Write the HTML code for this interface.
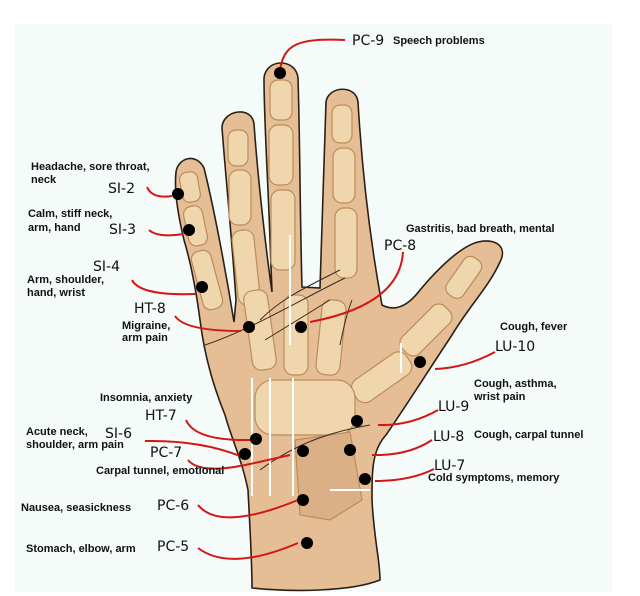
<!DOCTYPE html>
<html><head><meta charset="utf-8"><style>
html,body{margin:0;padding:0;background:#fff;}
svg{display:block;}
.t{font-family:"Liberation Sans",sans-serif;font-weight:bold;font-size:11px;fill:#111;}
.c{font-family:"DejaVu Sans","Liberation Sans",sans-serif;font-size:14px;fill:#111;}
.r{fill:none;stroke:#d41616;stroke-width:2;}
.b{fill:#f0d6ac;stroke:#b98c5a;stroke-width:1.2;}
</style></head><body>
<svg width="640" height="596" viewBox="0 0 640 596" xmlns="http://www.w3.org/2000/svg">
<rect x="15" y="24" width="597" height="568" fill="#f4fbf8"/>
<path d="M252,588 C252,560 250,530 248,490 C242,460 232,440 225,415 C215,390 205,360 200,320 C196,290 190,260 184,240 C178,215 174,190 176,172 C178,158 196,152 204,168 C212,200 224,260 234,322 L236,300 C232,240 226,180 222,128 C222,110 252,105 254,124 C258,180 266,250 272,292 L270,240 C268,180 264,120 264,78 C266,58 296,58 298,78 C300,140 300,220 302,287 L320,288 C322,230 324,160 326,102 C328,86 356,84 358,102 C362,170 370,240 382,305 C395,312 408,306 420,290 C440,266 462,246 478,242 C495,238 508,246 500,262 C488,288 470,305 452,335 C432,365 410,400 386,435 C372,450 372,470 372,500 C374,540 380,560 380,580 C350,592 290,592 252,588 Z" fill="#e6be96" stroke="#2a2018" stroke-width="1.6"/>
<g class="b">
<rect x="270" y="80" width="22" height="40" rx="8"/><rect x="269" y="125" width="24" height="60" rx="9"/><rect x="271" y="190" width="24" height="80" rx="9"/>
<rect x="228" y="130" width="20" height="36" rx="8"/><rect x="229" y="170" width="22" height="55" rx="9"/><rect x="235" y="230" width="22" height="75" rx="9" transform="rotate(-6 246 267)"/>
<rect x="332" y="105" width="20" height="38" rx="8"/><rect x="333" y="148" width="22" height="55" rx="9"/><rect x="335" y="208" width="22" height="70" rx="9"/>
<rect x="181" y="172" width="18" height="30" rx="7" transform="rotate(-10 190 187)"/><rect x="186" y="206" width="19" height="40" rx="8" transform="rotate(-12 195 226)"/><rect x="197" y="250" width="20" height="60" rx="8" transform="rotate(-15 207 280)"/>
<rect x="248" y="290" width="24" height="80" rx="9" transform="rotate(-8 260 330)"/><rect x="284" y="295" width="24" height="80" rx="9"/><rect x="319" y="300" width="24" height="75" rx="9" transform="rotate(6 331 337)"/>
<rect x="454" y="255" width="20" height="45" rx="8" transform="rotate(35 464 277)"/><rect x="414" y="300" width="24" height="60" rx="9" transform="rotate(45 426 330)"/><rect x="369" y="345" width="26" height="65" rx="10" transform="rotate(55 382 377)"/>
<rect x="255" y="380" width="100" height="55" rx="18"/>
<path d="M295,440 L350,432 L362,500 L330,520 L300,515 Z" fill="#dcb086" stroke="#b98c5a"/>
</g>
<g fill="none" stroke="#3a2a20" stroke-width="1">
<path d="M205,345 C250,330 300,300 345,278"/><path d="M260,320 C280,300 300,290 340,270"/><path d="M265,340 L330,300"/><path d="M340,345 C345,320 350,305 352,300"/><path d="M260,470 C300,440 340,430 370,425"/>
</g>
<g stroke="#fff" stroke-width="2">
<line x1="290" y1="235" x2="290" y2="345"/><line x1="252" y1="378" x2="252" y2="496"/><line x1="270" y1="378" x2="270" y2="496"/><line x1="293" y1="378" x2="293" y2="496"/><line x1="401" y1="343" x2="401" y2="373"/><line x1="330" y1="490" x2="370" y2="490"/>
</g>
<path class="r" d="M280,70 C284,44 298,38 345,40"/>
<path class="r" d="M147,187 Q152,199 172,196"/>
<path class="r" d="M149,230 Q158,238 183,234"/>
<path class="r" d="M132,280 Q140,296 196,294"/>
<path class="r" d="M175,316 Q185,331 241,331"/>
<path class="r" d="M403,252 Q400,305 310,322"/>
<path class="r" d="M435,369 Q465,368 495,352"/>
<path class="r" d="M378,425 Q410,426 438,410"/>
<path class="r" d="M372,455 Q408,456 432,440"/>
<path class="r" d="M375,481 Q410,481 434,469"/>
<path class="r" d="M186,420 Q195,441 250,440"/>
<path class="r" d="M145,441 Q200,440 240,456"/>
<path class="r" d="M188,460 Q200,475 250,464 L290,455"/>
<path class="r" d="M198,505 Q220,532 298,500"/>
<path class="r" d="M198,548 Q230,572 298,543"/>
<g fill="#000">
<circle cx="280" cy="73" r="6"/><circle cx="178" cy="194" r="6"/><circle cx="189" cy="230" r="6"/><circle cx="202" cy="287" r="6"/>
<circle cx="249" cy="327" r="6"/><circle cx="301" cy="327" r="6"/><circle cx="420" cy="362" r="6"/><circle cx="357" cy="421" r="6"/>
<circle cx="256" cy="439" r="6"/><circle cx="245" cy="454" r="6"/><circle cx="303" cy="451" r="6"/><circle cx="350" cy="450" r="6"/>
<circle cx="365" cy="479" r="6"/><circle cx="303" cy="500" r="6"/><circle cx="307" cy="543" r="6"/>
</g>
<text class="c" x="352" y="45">PC-9</text><text class="t" x="393" y="44">Speech problems</text>
<text class="t" x="31" y="170">Headache, sore throat,</text><text class="t" x="31" y="183">neck</text><text class="c" x="108" y="193">SI-2</text>
<text class="t" x="28" y="217">Calm, stiff neck,</text><text class="t" x="28" y="231">arm, hand</text><text class="c" x="109" y="234">SI-3</text>
<text class="c" x="93" y="271">SI-4</text><text class="t" x="27" y="283">Arm, shoulder,</text><text class="t" x="27" y="296">hand, wrist</text>
<text class="c" x="134" y="313">HT-8</text><text class="t" x="122" y="329">Migraine,</text><text class="t" x="122" y="341">arm pain</text>
<text class="t" x="406" y="232">Gastritis, bad breath, mental</text><text class="c" x="384" y="250">PC-8</text>
<text class="t" x="500" y="330">Cough, fever</text><text class="c" x="495" y="351">LU-10</text>
<text class="t" x="474" y="387">Cough, asthma,</text><text class="t" x="474" y="400">wrist pain</text><text class="c" x="438" y="411">LU-9</text>
<text class="c" x="433" y="441">LU-8</text><text class="t" x="474" y="438">Cough, carpal tunnel</text>
<text class="c" x="434" y="470">LU-7</text><text class="t" x="428" y="481">Cold symptoms, memory</text>
<text class="t" x="100" y="401">Insomnia, anxiety</text><text class="c" x="145" y="420">HT-7</text>
<text class="t" x="26" y="435">Acute neck,</text><text class="t" x="26" y="448">shoulder, arm pain</text><text class="c" x="105" y="438">SI-6</text>
<text class="c" x="150" y="457">PC-7</text><text class="t" x="96" y="474">Carpal tunnel, emotional</text>
<text class="t" x="21" y="511">Nausea, seasickness</text><text class="c" x="157" y="510">PC-6</text>
<text class="t" x="26" y="552">Stomach, elbow, arm</text><text class="c" x="157" y="551">PC-5</text>
</svg>
</body></html>
